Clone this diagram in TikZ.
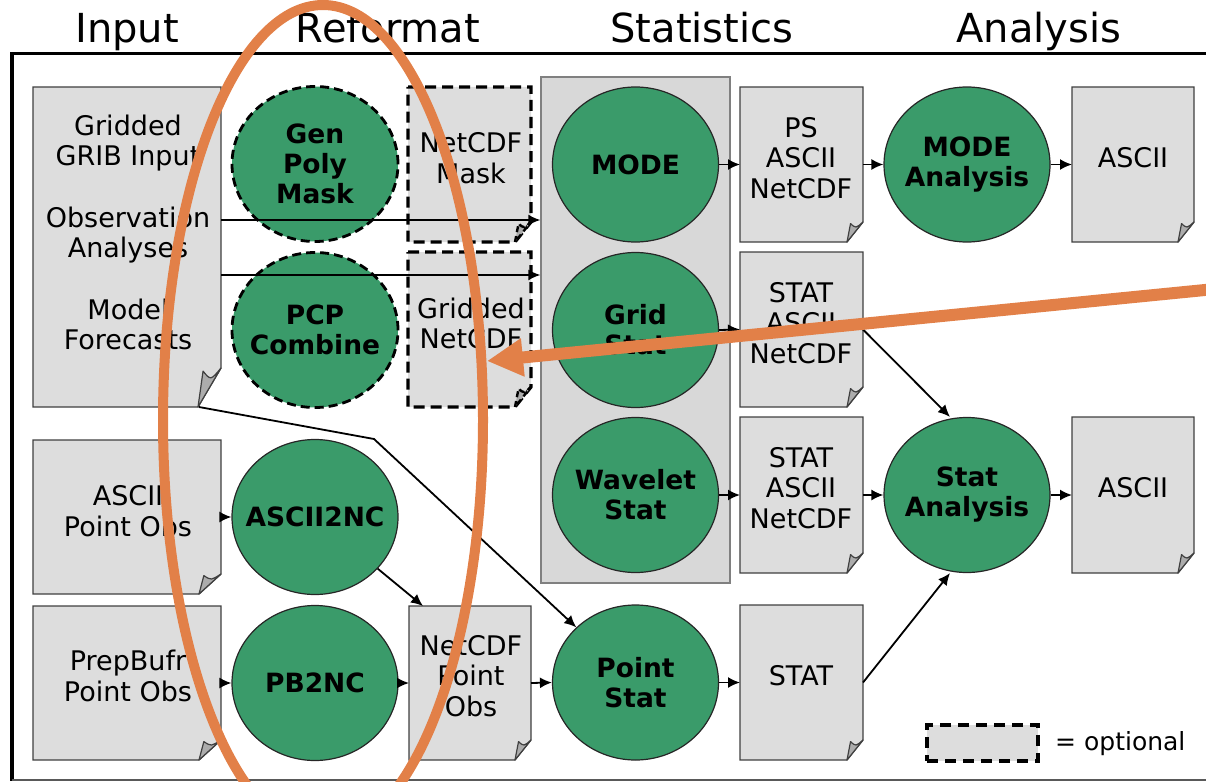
\documentclass[tikz,border=0pt]{standalone}
\usepackage{fontspec}
\setmainfont{DejaVu Sans}
\usetikzlibrary{shapes.geometric,arrows.meta}
\definecolor{procgreen}{RGB}{58,155,106}
\definecolor{docgray}{RGB}{221,221,221}
\definecolor{boxgray}{RGB}{216,216,216}
\definecolor{foldgray}{RGB}{172,172,172}
\definecolor{docedge}{RGB}{64,64,64}
\definecolor{annot}{RGB}{226,128,72}
\tikzset{
  anchorbox/.style={rectangle, draw=none, fill=none, inner sep=0pt, outer sep=0pt},
  docbody/.style={fill=docgray, draw=docedge, line width=1.3pt, line join=miter},
  docfold/.style={fill=foldgray, draw=docedge, line width=1.2pt, line join=round},
  optbody/.style={fill=docgray, draw=black, line width=3.2pt, dash pattern=on 11pt off 6pt},
  optfold/.style={fill=foldgray, draw=black, line width=2.4pt, dash pattern=on 6pt off 4pt},
  proc/.style={ellipse, fill=procgreen, draw=black!85, line width=1.2pt,
    minimum width=166pt, minimum height=155pt, inner sep=0pt,
    font=\fontsize{26.5}{30}\selectfont\bfseries, align=center},
  optproc/.style={proc, draw=black, line width=2.8pt, dash pattern=on 9pt off 5pt},
  doctext/.style={font=\fontsize{27}{30.5}\selectfont, align=center, inner sep=0pt},
  coltitle/.style={font=\fontsize{40}{44}\selectfont, anchor=base, inner sep=0pt},
  arr/.style={line width=1.8pt, -{Latex[length=12pt,width=11pt]}},
  annotline/.style={draw=annot, line width=10pt},
}
\newcommand\pl[1]{\makebox[0pt]{#1}}
\newcommand\paperdoc[5]{%
  \path[#1] (#3.north west) -- (#3.north east) -- ([shift={(0,#5)}]#3.south east)
    -- ([shift={(-#4,0)}]#3.south east) -- (#3.south west) -- cycle;
  \path[#2] ([shift={(-#4,0)}]#3.south east) -- ([shift={(-0.78*#4,0.92*#5)}]#3.south east)
    .. controls ([shift={(-0.45*#4,0.68*#5)}]#3.south east) .. ([shift={(0,#5)}]#3.south east) -- cycle;
}
\begin{document}
\begin{tikzpicture}[x=1pt,y=1pt]
\useasboundingbox (0,0) rectangle (1206,-781);
\clip (0,0) rectangle (1206,-781);

% column titles
\node[coltitle] (ti-input) at (127,-43) {Input};
\node[coltitle] (ti-reformat) at (388,-43) {Reformat};
\node[coltitle] (ti-stat) at (702,-43) {Statistics};
\node[coltitle] (ti-anal) at (1039,-43) {Analysis};

% statistics box
\node[rectangle, fill=boxgray, draw=black!50, line width=1.3pt, minimum width=189pt, minimum height=506pt, inner sep=0pt] (sbox) at (635.5,-330) {};

% document anchors
\node[anchorbox, minimum width=188pt, minimum height=320pt] (doc1) at (127,-247) {};
\node[anchorbox, minimum width=123pt, minimum height=155pt] (mask) at (469.5,-164.5) {};
\node[anchorbox, minimum width=123pt, minimum height=155pt] (gnc) at (469.5,-329.5) {};
\node[anchorbox, minimum width=188pt, minimum height=154pt] (apo) at (127,-517) {};
\node[anchorbox, minimum width=188pt, minimum height=154pt] (ppo) at (127,-683) {};
\node[anchorbox, minimum width=122pt, minimum height=154pt] (npo) at (470,-683) {};
\node[anchorbox, minimum width=123pt, minimum height=155pt] (ps) at (801.5,-164.5) {};
\node[anchorbox, minimum width=123pt, minimum height=155pt] (sd2) at (801.5,-329.5) {};
\node[anchorbox, minimum width=123pt, minimum height=156pt] (sd3) at (801.5,-495) {};
\node[anchorbox, minimum width=123pt, minimum height=155pt] (sd4) at (801.5,-682.5) {};
\node[anchorbox, minimum width=122pt, minimum height=155pt] (as1) at (1133,-164.5) {};
\node[anchorbox, minimum width=122pt, minimum height=156pt] (as2) at (1133,-495) {};

% document shapes
\paperdoc{docbody}{docfold}{doc1}{23}{39}
\paperdoc{optbody}{optfold}{mask}{16}{20}
\paperdoc{optbody}{optfold}{gnc}{16}{20}
\paperdoc{docbody}{docfold}{apo}{22}{20}
\paperdoc{docbody}{docfold}{ppo}{22}{20}
\paperdoc{docbody}{docfold}{npo}{16}{20}
\paperdoc{docbody}{docfold}{ps}{16}{20}
\paperdoc{docbody}{docfold}{sd2}{16}{20}
\paperdoc{docbody}{docfold}{sd3}{16}{20}
\paperdoc{docbody}{docfold}{sd4}{16}{20}
\paperdoc{docbody}{docfold}{as1}{16}{20}
\paperdoc{docbody}{docfold}{as2}{16}{20}

% document texts
\node[doctext] (t-doc1) at (128,-232.5) {Gridded\\GRIB Input\\[31pt]Observation\\Analyses\\[31pt]Model\\Forecasts};
\node[doctext] (t-mask) at (471,-158) {NetCDF\\Mask};
\node[doctext] (t-gnc) at (471,-323.5) {Gridded\\NetCDF};
\node[doctext] (t-apo) at (128,-511) {ASCII\\Point Obs};
\node[doctext] (t-ppo) at (128,-676) {PrepBufr\\Point Obs};
\node[doctext] (t-npo) at (471,-676) {NetCDF\\Point\\Obs};
\node[doctext] (t-ps) at (801,-158) {PS\\ASCII\\NetCDF};
\node[doctext] (t-sd2) at (801,-323) {STAT\\ASCII\\NetCDF};
\node[doctext] (t-sd3) at (801,-488) {STAT\\ASCII\\NetCDF};
\node[doctext] (t-sd4) at (801,-676) {STAT};
\node[doctext] (t-as1) at (1133,-158) {ASCII};
\node[doctext] (t-as2) at (1133,-488) {ASCII};

% processes
\node[optproc] (gpm) at (315,-164) {\pl{Gen}\\\pl{Poly}\\\pl{Mask}};
\node[optproc] (pcp) at (315,-330) {\pl{PCP}\\\pl{Combine}};
\node[proc] (a2nc) at (315,-517) {\pl{ASCII2NC}};
\node[proc] (pb2nc) at (315,-683) {\pl{PB2NC}};
\node[proc] (mode) at (635.5,-164.5) {\pl{MODE}};
\node[proc] (gstat) at (635.5,-330) {\pl{Grid}\\\pl{Stat}};
\node[proc] (wstat) at (635.5,-495) {\pl{Wavelet}\\\pl{Stat}};
\node[proc] (pstat) at (635.5,-682.5) {\pl{Point}\\\pl{Stat}};
\node[proc] (mana) at (967,-164.5) {\pl{MODE}\\\pl{Analysis}};
\node[proc] (sana) at (967,-495) {\pl{Stat}\\\pl{Analysis}};

% connectors
\draw[arr] ([yshift=27pt]doc1.east) -- ([yshift=110pt]sbox.west);
\draw[arr] ([yshift=-28pt]doc1.east) -- ([yshift=55pt]sbox.west);
\coordinate (doc1tail) at ([xshift=-22pt]doc1.south east);
\coordinate (bend) at (374,-439);
\draw[arr] (doc1tail) -- (bend) -- (pstat);
\draw[arr] (apo.east) -- (a2nc.west);
\draw[arr] (ppo.east) -- (pb2nc.west);
\draw[arr] (pb2nc.east) -- (npo.west);
\draw[arr] (a2nc) -- ([xshift=14pt]npo.north west);
\draw[arr] (npo.east) -- (pstat.west);
\draw[arr] (mode.east) -- (ps.west);
\draw[arr] (gstat.east) -- (sd2.west);
\draw[arr] (wstat.east) -- (sd3.west);
\draw[arr] (pstat.east) -- (sd4.west);
\draw[arr] (ps.east) -- (mana.west);
\draw[arr] (mana.east) -- (as1.west);
\draw[arr] (sd3.east) -- (sana.west);
\draw[arr] (sana.east) -- (as2.west);
\draw[arr] (sd2.east) -- ([xshift=-17pt]sana.north);
\draw[arr] (sd4.east) -- ([xshift=-17pt]sana.south);

% legend
\node[rectangle, fill=docgray, draw=black, line width=3.5pt, dash pattern=on 11pt off 7pt, minimum width=111pt, minimum height=36pt, inner sep=0pt] (legbox) at (982.5,-743) {};
\node[font=\fontsize{25}{30}\selectfont, anchor=base west, inner sep=0pt] (legtxt) at (1055,-750) {= optional};

% frame
\draw[line width=3.5pt] (1215,-53.5) -- (12,-53.5) -- (12,-781);
\draw[line width=2pt, draw=black!65] (12,-780) -- (1215,-780);

% orange annotation
\draw[annotline] (323,-420) ellipse [x radius=160, y radius=415];
\coordinate (oa-start) at (1215,-289);
\coordinate (oa-tip) at (487,-361);
\draw[draw=annot, fill=annot, line width=12pt, -{Triangle[length=36pt,width=36pt]}] (oa-start) -- (oa-tip);
\end{tikzpicture}
\end{document}
